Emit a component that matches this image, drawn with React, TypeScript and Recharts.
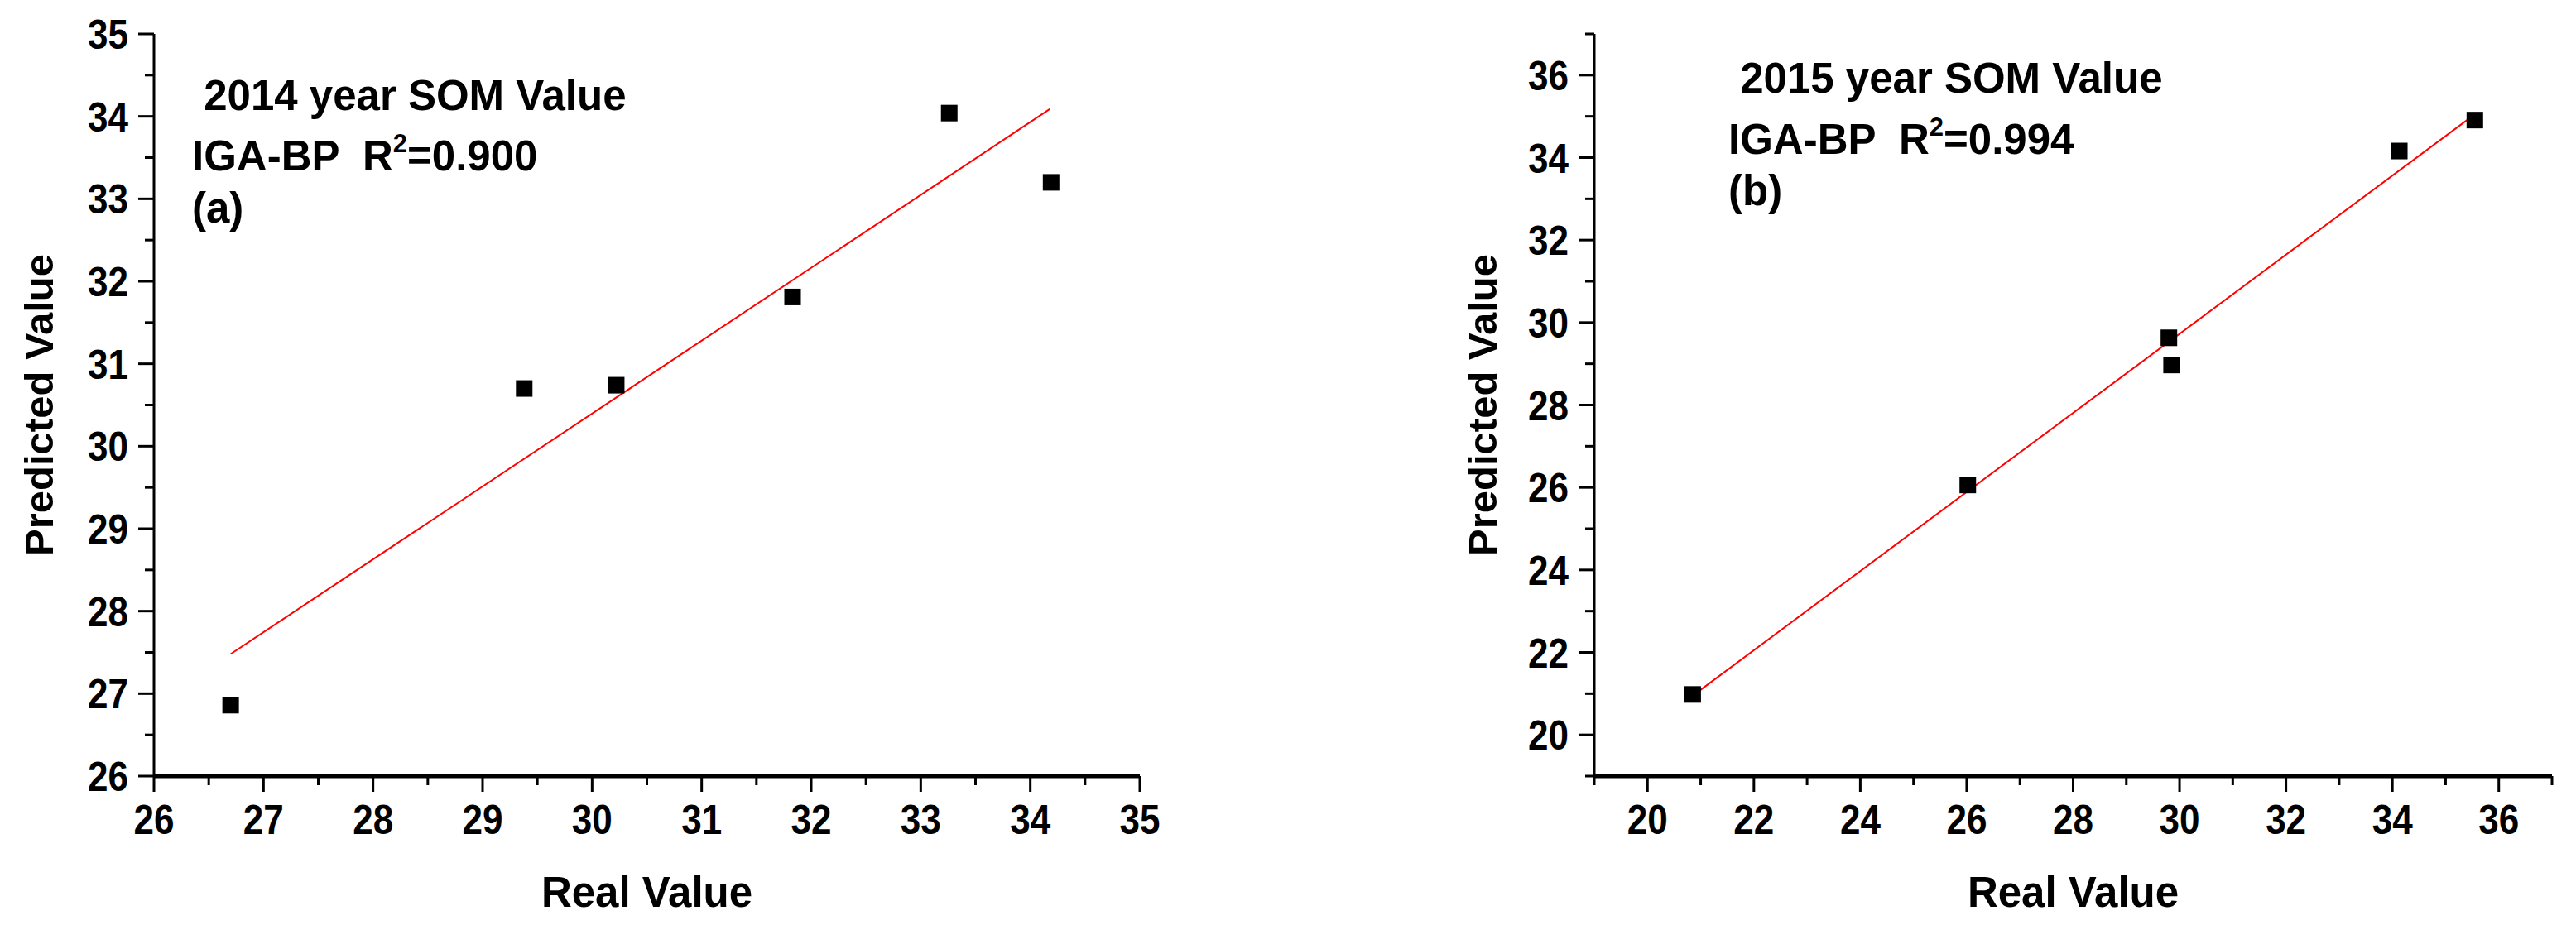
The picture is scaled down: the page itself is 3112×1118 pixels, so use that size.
import React from 'react';
import { ScatterChart, Scatter, XAxis, YAxis, ReferenceLine, Label } from 'recharts';

// ---------- data: panel (a) 2014 ----------
const realValues2014 = [26.7, 29.38, 30.22, 31.83, 33.26, 34.19];
const predictedValues2014 = [26.86, 30.7, 30.74, 31.81, 34.04, 33.2];
const fitLineX2014 = [26.7, 34.18];
const fitLineY2014 = [27.48, 34.09];
const ticks2014 = [26, 26.5, 27, 27.5, 28, 28.5, 29, 29.5, 30, 30.5, 31, 31.5, 32, 32.5, 33, 33.5, 34, 34.5, 35];
const majorTicks2014 = [26, 27, 28, 29, 30, 31, 32, 33, 34, 35];
const textLines2014 = [' 2014 year SOM Value', 'IGA-BP  R', '(a)'];
const r2Value2014 = '=0.900';

// ---------- data: panel (b) 2015 ----------
const realValues2015 = [20.85, 26.02, 29.8, 29.85, 34.13, 35.55];
const predictedValues2015 = [20.98, 26.06, 29.63, 28.97, 34.16, 34.91];
const fitLineX2015 = [20.85, 35.55];
const fitLineY2015 = [20.95, 35.05];
const ticks2015 = [19, 20, 21, 22, 23, 24, 25, 26, 27, 28, 29, 30, 31, 32, 33, 34, 35, 36, 37];
const majorTicks2015 = [20, 22, 24, 26, 28, 30, 32, 34, 36];
const textLines2015 = [' 2015 year SOM Value', 'IGA-BP  R', '(b)'];
const r2Value2015 = '=0.994';

const xAxisTitle = 'Real Value';
const yAxisTitle = 'Predicted Value';

const FONT = '"Liberation Sans", Arial, Helvetica, sans-serif';

const isMajor = (majors: number[], v: number) => majors.some((m) => Math.abs(m - v) < 1e-6);

const TickText = ({ x, y, anchor, children }: any) => (
  <text
    transform={`translate(${x}, ${y}) scale(0.88, 1)`}
    x={0}
    y={0}
    textAnchor={anchor}
    fontFamily={FONT}
    fontWeight="bold"
    fontSize={50}
    fill="#000"
  >
    {children}
  </text>
);

const makeXTick = (majors: number[]) => (props: any) => {
  const { x, y, payload } = props;
  const major = isMajor(majors, payload.value);
  return (
    <g>
      <line x1={x} y1={y} x2={x} y2={y + (major ? 19 : 11)} stroke="#000" strokeWidth={3} />
      {major && (
        <TickText x={x} y={y + 70} anchor="middle">
          {payload.value}
        </TickText>
      )}
    </g>
  );
};

const makeYTick = (majors: number[]) => (props: any) => {
  const { x, y, payload } = props;
  const major = isMajor(majors, payload.value);
  return (
    <g>
      <line x1={x - (major ? 19 : 11)} y1={y} x2={x} y2={y} stroke="#000" strokeWidth={3} />
      {major && (
        <TickText x={x - 31} y={y + 18} anchor="end">
          {payload.value}
        </TickText>
      )}
    </g>
  );
};

const SquareMarker = (props: any) => {
  const { cx, cy } = props;
  if (cx == null || cy == null) return <g />;
  return <rect x={cx - 10} y={cy - 10} width={20} height={20} fill="#000" />;
};

type PanelProps = {
  left: number;
  width: number;
  marginLeft: number;
  marginRight: number;
  yAxisWidth: number;
  domain: [number, number];
  ticks: number[];
  majors: number[];
  realValues: number[];
  predictedValues: number[];
  fitX: number[];
  fitY: number[];
  lines: string[];
  r2: string;
  textX: number;
  baselines: number[];
  yTitleX: number;
};

const Panel = (p: PanelProps) => {
  const data = p.realValues.map((r, i) => ({ real: r, predicted: p.predictedValues[i] }));
  const height = 1118;
  const top = 41;
  const plotBottom = 938;
  const xAxisHeight = height - plotBottom;
  const plotLeft = p.marginLeft + p.yAxisWidth;
  const plotRight = p.width - p.marginRight;
  const xCenter = (plotLeft + plotRight) / 2;
  const yCenter = (top + plotBottom) / 2;
  const textProps = {
    fontFamily: FONT,
    fontWeight: 'bold' as const,
    fontSize: 51,
    fill: '#000',
  };
  return (
    <div style={{ position: 'absolute', left: p.left, top: 0, width: p.width, height }}>
      <ScatterChart
        width={p.width}
        height={height}
        margin={{ top, right: p.marginRight, bottom: 0, left: p.marginLeft }}
      >
        <XAxis
          type="number"
          dataKey="real"
          domain={p.domain}
          ticks={p.ticks}
          interval={0}
          allowDataOverflow
          height={xAxisHeight}
          tickSize={0}
          tickMargin={0}
          tickLine={false}
          axisLine={{ stroke: '#000', strokeWidth: 5 }}
          tick={makeXTick(p.majors)}
        >
          <Label
            content={() => (
              <text x={xCenter} y={1096} textAnchor="middle" {...textProps}>
                {xAxisTitle}
              </text>
            )}
          />
        </XAxis>
        <YAxis
          type="number"
          dataKey="predicted"
          domain={p.domain}
          ticks={p.ticks}
          interval={0}
          allowDataOverflow
          width={p.yAxisWidth}
          tickSize={0}
          tickMargin={0}
          tickLine={false}
          axisLine={{ stroke: '#000', strokeWidth: 3 }}
          tick={makeYTick(p.majors)}
        >
          <Label
            content={() => (
              <text
                x={p.yTitleX}
                y={yCenter}
                transform={`rotate(-90, ${p.yTitleX}, ${yCenter})`}
                textAnchor="middle"
                dominantBaseline="central"
                {...textProps}
                fontSize={49}
              >
                {yAxisTitle}
              </text>
            )}
          />
        </YAxis>
        <ReferenceLine
          segment={[
            { x: p.fitX[0], y: p.fitY[0] },
            { x: p.fitX[1], y: p.fitY[1] },
          ]}
          stroke="#ff0000"
          strokeWidth={2}
          ifOverflow="visible"
        />
        <Scatter data={data} fill="#000" shape={SquareMarker} isAnimationActive={false} />
        <text x={p.textX} y={p.baselines[0]} {...textProps} xmlSpace="preserve" style={{ whiteSpace: 'pre' }}>
          {p.lines[0]}
        </text>
        <text x={p.textX} y={p.baselines[1]} {...textProps} xmlSpace="preserve" style={{ whiteSpace: 'pre' }}>
          {p.lines[1]}
          <tspan fontSize={31} dy={-22}>2</tspan>
          <tspan dy={22}>{p.r2}</tspan>
        </text>
        <text x={p.textX} y={p.baselines[2]} {...textProps}>
          {p.lines[2]}
        </text>
      </ScatterChart>
    </div>
  );
};

export default function App() {
  return (
    <div style={{ position: 'absolute', left: 0, top: 0, width: 3112, height: 1118, background: '#fff' }}>
      <Panel
        left={0}
        width={1500}
        marginLeft={0}
        marginRight={123}
        yAxisWidth={186}
        domain={[26, 35]}
        ticks={ticks2014}
        majors={majorTicks2014}
        realValues={realValues2014}
        predictedValues={predictedValues2014}
        fitX={fitLineX2014}
        fitY={fitLineY2014}
        lines={textLines2014}
        r2={r2Value2014}
        textX={232}
        baselines={[133, 206, 269]}
        yTitleX={47}
      />
      <Panel
        left={1500}
        width={1612}
        marginLeft={326}
        marginRight={29}
        yAxisWidth={100}
        domain={[19, 37]}
        ticks={ticks2015}
        majors={majorTicks2015}
        realValues={realValues2015}
        predictedValues={predictedValues2015}
        fitX={fitLineX2015}
        fitY={fitLineY2015}
        lines={textLines2015}
        r2={r2Value2015}
        textX={2088 - 1500}
        baselines={[112, 186, 248]}
        yTitleX={1791 - 1500}
      />
    </div>
  );
}
